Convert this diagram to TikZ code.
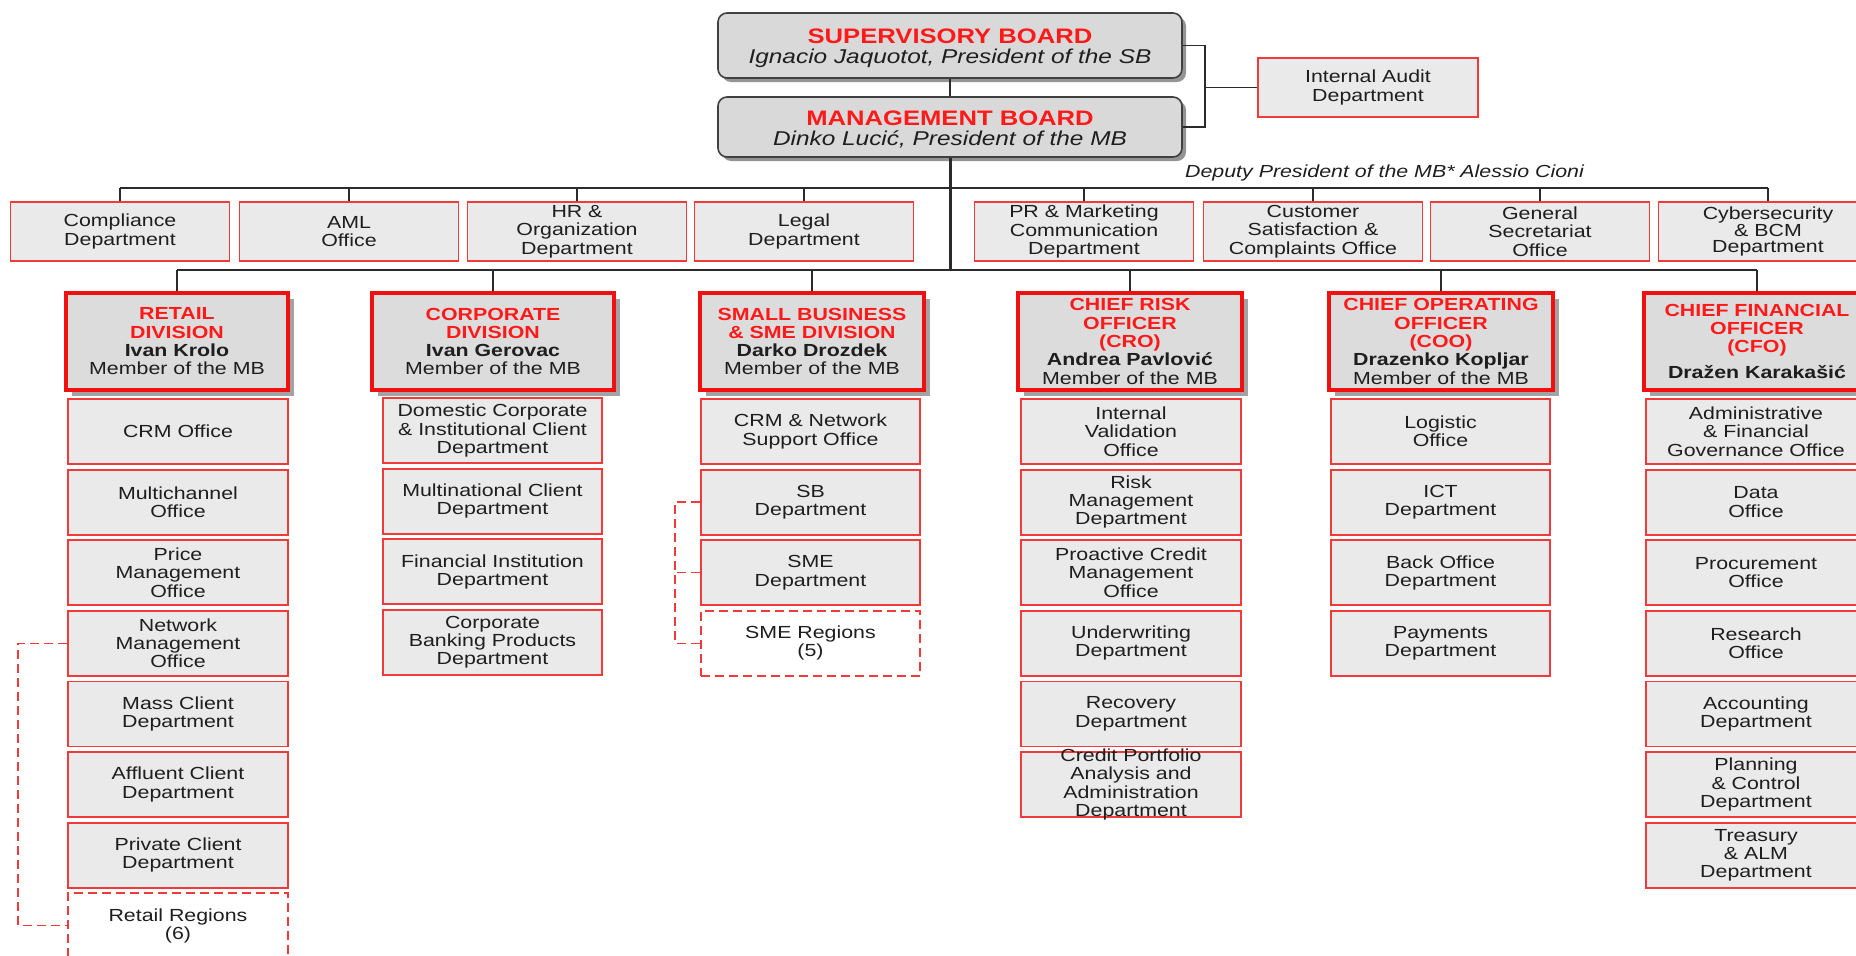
\documentclass[tikz,border=0pt]{standalone}
\usepackage{fontspec}
\setmainfont{Liberation Sans}[FakeStretch=1.22]
\usetikzlibrary{shadows}

\definecolor{boxred}{HTML}{F23A3A}
\definecolor{headred}{HTML}{F01010}
\definecolor{titlered}{HTML}{FF1A1A}
\definecolor{linegray}{HTML}{2B2B2B}
\definecolor{subfill}{HTML}{EAEAEA}
\definecolor{headfill}{HTML}{DCDCDC}
\definecolor{boardfill}{HTML}{D9D9D9}
\definecolor{txt}{HTML}{1E1E1E}

\newcommand\boxfont{\fontsize{17.5}{18.3}\selectfont}
\newcommand\boardfont{\fontsize{20}{20.5}\selectfont}
\newcommand\hd[1]{\textcolor{titlered}{\textbf{#1}}}
\newcommand\boardtitle[1]{\rule{0pt}{20pt}{\fontsize{21}{20.5}\selectfont\hd{#1}}}

\tikzset{
  board/.style={draw=black!75, line width=1.6pt, fill=boardfill, rounded corners=9pt,
    minimum width=464pt, inner sep=0pt, align=center, font=\boardfont, text=txt,
    drop shadow={shadow xshift=4pt, shadow yshift=-4pt, fill=black!60, opacity=.7}},
  staffbox/.style={draw=boxred, line width=1.8pt, fill=subfill, minimum width=219pt,
    minimum height=59pt, inner sep=0pt, align=center, font=\boxfont, text=txt},
  subbox/.style={staffbox, minimum height=65pt},
  regionbox/.style={subbox, dash pattern=on 9pt off 5pt, fill=white},
  divhead/.style={draw=headred, line width=3.2pt, fill=headfill, minimum height=97pt,
    inner sep=0pt, align=center, font=\boxfont, text=txt,
    drop shadow={shadow xshift=6pt, shadow yshift=-6pt, fill=black!45, opacity=.8}},
  link/.style={draw=linegray, line width=1.6pt},
  trunk/.style={link, line width=3pt},
  dashlink/.style={draw=boxred, line width=1.5pt, dash pattern=on 9pt off 5pt}
}

\begin{document}
\begin{tikzpicture}[x=1pt,y=-1pt]
  \path[use as bounding box] (0,0) rectangle (1856,956);
  \clip (0,0) rectangle (1856,956);

  \node[board, minimum height=65pt] (sb) at (950,45.5)
    {\boardtitle{SUPERVISORY BOARD}\\\textit{Ignacio Jaquotot, President of the SB}};
  \node[board, minimum height=60pt] (mb) at (950,127)
    {\boardtitle{MANAGEMENT BOARD}\\\textit{Dinko Lucić, President of the MB}};
  \node[staffbox, minimum width=220pt] (audit) at (1368,87.5) {Internal Audit\\Department};
  \node[font=\boxfont\itshape, text=txt, anchor=west, inner sep=0pt] (deputy) at (1185,173)
    {Deputy President of the MB* Alessio Cioni};

  \coordinate (brk) at (1205,87.5);
  \coordinate (topbus) at (950,188);
  \coordinate (lowbus) at (950,270);

  \foreach \nm/\x/\txt in {comp/120/{Compliance\\Department}, aml/349/{AML\\Office},
      hr/577/{HR \&\\Organization\\Department}, legal/804/{Legal\\Department},
      pr/1084/{PR \& Marketing\\Communication\\Department},
      cust/1313/{Customer\\Satisfaction \&\\Complaints Office},
      gensec/1540/{General\\Secretariat\\Office}}
    \node[staffbox] (\nm) at (\x,231.5) {\txt};
  \node[staffbox, font=\fontsize{17.5}{15.5}\selectfont] (cyber) at (1768,231.5)
    {Cybersecurity\\\& BCM\\Department};

  \node[divhead, minimum width=222pt] (retail) at (177,341.5)
    {\hd{RETAIL}\\\hd{DIVISION}\\\textbf{Ivan Krolo}\\Member of the MB};
  \node[divhead, minimum width=242pt] (corp) at (493,341.5)
    {\hd{CORPORATE}\\\hd{DIVISION}\\\textbf{Ivan Gerovac}\\Member of the MB};
  \node[divhead, minimum width=224pt] (smb) at (812,341.5)
    {\hd{SMALL BUSINESS}\\\hd{\& SME DIVISION}\\\textbf{Darko Drozdek}\\Member of the MB};
  \node[divhead, minimum width=224pt] (cro) at (1130,341.5)
    {\hd{CHIEF RISK}\\\hd{OFFICER}\\\hd{(CRO)}\\\textbf{Andrea Pavlović}\\Member of the MB};
  \node[divhead, minimum width=224pt] (coo) at (1441,341.5)
    {\hd{CHIEF OPERATING}\\\hd{OFFICER}\\\hd{(COO)}\\\textbf{Drazenko Kopljar}\\Member of the MB};
  \node[divhead, minimum width=226pt] (cfo) at (1757,341.5)
    {\hd{CHIEF FINANCIAL}\\\hd{OFFICER}\\\hd{(CFO)}\\[8pt]\textbf{Dražen Karakašić}};

  \foreach \txt [count=\i from 0] in {{CRM Office},{Multichannel\\Office},{Price\\Management\\Office},
      {Network\\Management\\Office},{Mass Client\\Department},{Affluent Client\\Department},
      {Private Client\\Department}}
    \node[subbox, minimum width=220pt] (ret\i) at (178,{431.5+70.6*\i}) {\txt};
  \node[regionbox, minimum width=220pt] (retreg) at (178,{431.5+70.6*7}) {Retail Regions\\(6)};

  \foreach \txt [count=\i from 0] in {{Domestic Corporate\\\& Institutional Client\\Department},
      {Multinational Client\\Department},{Financial Institution\\Department},
      {Corporate\\Banking Products\\Department}}
    \node[subbox] (cor\i) at (492.5,{430.5+70.6*\i}) {\txt};

  \foreach \txt [count=\i from 0] in {{CRM \& Network\\Support Office},{SB\\Department},{SME\\Department}}
    \node[subbox] (smb\i) at (810.5,{431.5+70.6*\i}) {\txt};
  \node[regionbox] (smbreg) at (810.5,{431.5+70.6*3}) {SME Regions\\(5)};

  \foreach \txt [count=\i from 0] in {{Internal\\Validation\\Office},{Risk\\Management\\Department},
      {Proactive Credit\\Management\\Office},{Underwriting\\Department},{Recovery\\Department}}
    \node[subbox, minimum width=220pt] (cro\i) at (1131,{431.5+70.6*\i}) {\txt};
  \node[subbox, minimum width=220pt,
    label={[font=\boxfont, text=txt, align=center, inner sep=0pt]center:Credit Portfolio\\Analysis and\\Administration\\Department}]
    (cro5) at (1131,{431.5+70.6*5}) {};

  \foreach \txt [count=\i from 0] in {{Logistic\\Office},{ICT\\Department},{Back Office\\Department},
      {Payments\\Department}}
    \node[subbox] (coo\i) at (1440.5,{431.5+70.6*\i}) {\txt};

  \foreach \txt [count=\i from 0] in {{Administrative\\\& Financial\\Governance Office},{Data\\Office},
      {Procurement\\Office},{Research\\Office},{Accounting\\Department},{Planning\\\& Control\\Department},
      {Treasury\\\& ALM\\Department}}
    \node[subbox, minimum width=220pt] (cfo\i) at (1756,{431.5+70.6*\i}) {\txt};

  \draw[link] (sb) -- (mb);
  \draw[link] (sb.east) -| (brk) |- (mb.east);
  \draw[link] (brk) -- (audit);
  \draw[trunk] (mb.south) -- (mb.south |- lowbus);
  \draw[link] (comp.north |- topbus) -- (cyber.north |- topbus);
  \foreach \nm in {comp,aml,hr,legal,pr,cust,gensec,cyber}
    \draw[link] (\nm.north) -- (\nm.north |- topbus);
  \draw[link] (retail.north |- lowbus) -- (cfo.north |- lowbus);
  \foreach \nm in {retail,corp,smb,cro,coo,cfo}
    \draw[link] (\nm.north) -- (\nm.north |- lowbus);

  \draw[dashlink] (ret3.west) -- ++(-49,0) |- (retreg.west);
  \draw[dashlink] (smb1.west) -- ++(-25,0) |- (smbreg.west);
  \draw[dashlink] (smb2.west) -- ++(-25,0);
\end{tikzpicture}
\end{document}
